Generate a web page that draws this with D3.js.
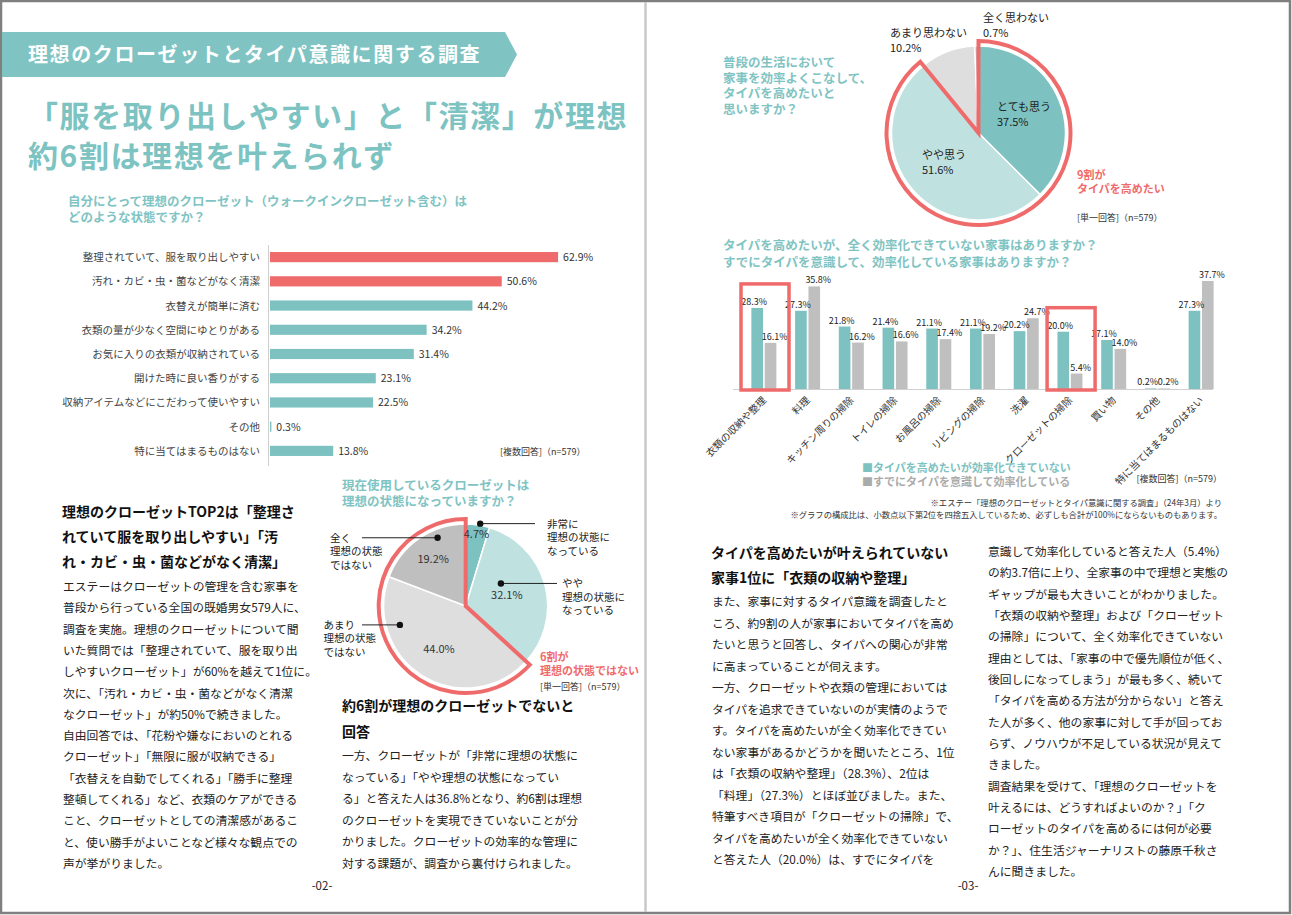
<!DOCTYPE html>
<html lang="ja">
<head>
<meta charset="utf-8">
<script src="https://cdn.jsdelivr.net/npm/d3@7"></script>
<style>
  html, body { margin: 0; padding: 0; background: #fff; }
  svg { display: block; font-family: "Noto Sans CJK JP", "Noto Sans", sans-serif; }
</style>
</head>
<body>
<svg id="chart" width="1292" height="915"></svg>
<script>
// ---------------- DATA ----------------
const bannerTitle = "理想のクローゼットとタイパ意識に関する調査";
const mainTitle = ["「服を取り出しやすい」と「清潔」が理想", "約6割は理想を叶えられず"];

const q1Question = ["自分にとって理想のクローゼット（ウォークインクローゼット含む）は", "どのような状態ですか？"];
const q1Categories = [
  "整理されていて、服を取り出しやすい",
  "汚れ・カビ・虫・菌などがなく清潔",
  "衣替えが簡単に済む",
  "衣類の量が少なく空間にゆとりがある",
  "お気に入りの衣類が収納されている",
  "開けた時に良い香りがする",
  "収納アイテムなどにこだわって使いやすい",
  "その他",
  "特に当てはまるものはない"
];
const q1Values = [62.9, 50.6, 44.2, 34.2, 31.4, 23.1, 22.5, 0.3, 13.8];
const q1Note = "[複数回答]（n=579）";

const q2Question = ["現在使用しているクローゼットは", "理想の状態になっていますか？"];
const q2Labels = [["非常に", "理想の状態に", "なっている"], ["やや", "理想の状態に", "なっている"], ["あまり", "理想の状態", "ではない"], ["全く", "理想の状態", "ではない"]];
const q2Values = [4.7, 32.1, 44.0, 19.2];
const q2Callout = ["6割が", "理想の状態ではない"];
const q2Note = "[単一回答]（n=579）";

const q3Question = ["普段の生活において", "家事を効率よくこなして、", "タイパを高めたいと", "思いますか？"];
const q3Labels = ["とても思う", "やや思う", "あまり思わない", "全く思わない"];
const q3Values = [37.5, 51.6, 10.2, 0.7];
const q3Callout = ["9割が", "タイパを高めたい"];
const q3Note = "[単一回答]（n=579）";

const q4Question = ["タイパを高めたいが、全く効率化できていない家事はありますか？", "すでにタイパを意識して、効率化している家事はありますか？"];
const q4Categories = ["衣類の収納や整理", "料理", "キッチン周りの掃除", "トイレの掃除", "お風呂の掃除", "リビングの掃除", "洗濯", "クローゼットの掃除", "買い物", "その他", "特に当てはまるものはない"];
const q4SeriesNames = ["タイパを高めたいが効率化できていない", "すでにタイパを意識して効率化している"];
const q4Want = [28.3, 27.3, 21.8, 21.4, 21.1, 21.1, 20.2, 20.0, 17.1, 0.2, 27.3];
const q4Done = [16.1, 35.8, 16.2, 16.6, 17.4, 19.2, 24.7, 5.4, 14.0, 0.2, 37.7];
const q4Highlight = ["衣類の収納や整理", "クローゼットの掃除"];
const q4Note = "[複数回答]（n=579）";
const footnotes = ["※エステー「理想のクローゼットとタイパ意識に関する調査」（24年3月）より", "※グラフの構成比は、小数点以下第2位を四捨五入しているため、必ずしも合計が100%にならないものもあります。"];

const text1Head = ["理想のクローゼットTOP2は「整理さ", "れていて服を取り出しやすい」「汚", "れ・カビ・虫・菌などがなく清潔」"];
const text1Body = [
  "エステーはクローゼットの管理を含む家事を",
  "普段から行っている全国の既婚男女579人に、",
  "調査を実施。理想のクローゼットについて聞",
  "いた質問では「整理されていて、服を取り出",
  "しやすいクローゼット」が60%を越えて1位に。",
  "次に、「汚れ・カビ・虫・菌などがなく清潔",
  "なクローゼット」が約50%で続きました。",
  "自由回答では、「花粉や嫌なにおいのとれる",
  "クローゼット」「無限に服が収納できる」",
  "「衣替えを自動でしてくれる」「勝手に整理",
  "整頓してくれる」など、衣類のケアができる",
  "こと、クローゼットとしての清潔感があるこ",
  "と、使い勝手がよいことなど様々な観点での",
  "声が挙がりました。"
];
const text2Head = ["約6割が理想のクローゼットでないと", "回答"];
const text2Body = [
  "一方、クローゼットが「非常に理想の状態に",
  "なっている」「やや理想の状態になってい",
  "る」と答えた人は36.8%となり、約6割は理想",
  "のクローゼットを実現できていないことが分",
  "かりました。クローゼットの効率的な管理に",
  "対する課題が、調査から裏付けられました。"
];
const text3Head = ["タイパを高めたいが叶えられていない", "家事1位に「衣類の収納や整理」"];
const text3Body = [
  "また、家事に対するタイパ意識を調査したと",
  "ころ、約9割の人が家事においてタイパを高め",
  "たいと思うと回答し、タイパへの関心が非常",
  "に高まっていることが伺えます。",
  "一方、クローゼットや衣類の管理においては",
  "タイパを追求できていないのが実情のようで",
  "す。タイパを高めたいが全く効率化できてい",
  "ない家事があるかどうかを聞いたところ、1位",
  "は「衣類の収納や整理」（28.3%）、2位は",
  "「料理」（27.3%）とほぼ並びました。また、",
  "特筆すべき項目が「クローゼットの掃除」で、",
  "タイパを高めたいが全く効率化できていない",
  "と答えた人（20.0%）は、すでにタイパを"
];
const text4Body = [
  "意識して効率化していると答えた人（5.4%）",
  "の約3.7倍に上り、全家事の中で理想と実態の",
  "ギャップが最も大きいことがわかりました。",
  "「衣類の収納や整理」および「クローゼット",
  "の掃除」について、全く効率化できていない",
  "理由としては、「家事の中で優先順位が低く、",
  "後回しになってしまう」が最も多く、続いて",
  "「タイパを高める方法が分からない」と答え",
  "た人が多く、他の家事に対して手が回ってお",
  "らず、ノウハウが不足している状況が見えて",
  "きました。",
  "調査結果を受けて、「理想のクローゼットを",
  "叶えるには、どうすればよいのか？」「ク",
  "ローゼットのタイパを高めるには何が必要",
  "か？」、住生活ジャーナリストの藤原千秋さ",
  "んに聞きました。"
];
const pageNumbers = ["-02-", "-03-"];

// ---------------- STYLE ----------------
const TEAL = "#7dc2c1", TEAL_L = "#bfe1e0", RED = "#ef6b6b", GRAY = "#bfbfbf", GRAY_L = "#dedede", INK = "#333";

const svg = d3.select("#chart");

// frame
svg.append("rect").attr("x", 1).attr("y", 1).attr("width", 1289).attr("height", 912)
  .attr("fill", "#fff").attr("stroke", "#7f7f7f").attr("stroke-width", 2.5);
svg.append("line").attr("x1", 645.5).attr("x2", 645.5).attr("y1", 2).attr("y2", 912)
  .attr("stroke", "#c8c8c8").attr("stroke-width", 2.5);

function lines(g, arr, x, y0, dy, size, opts = {}) {
  const t = g.append("text").attr("x", x).attr("y", y0)
    .attr("font-size", size).attr("fill", opts.fill || INK)
    .attr("font-weight", opts.weight || 400)
    .attr("text-anchor", opts.anchor || "start");
  if (opts.ls) t.attr("letter-spacing", opts.ls);
  arr.forEach((s, i) => t.append("tspan").attr("x", x).attr("y", y0 + i * dy).text(s));
  return t;
}

// ---------------- HEADER ----------------
svg.append("path").attr("d", "M2,32 L505,32 L517,54.5 L505,77 L2,77 Z").attr("fill", "#7fc4c3");
lines(svg, [bannerTitle], 28, 62, 0, 20, { fill: "#fff", weight: 700, ls: 1.6 });
lines(svg, mainTitle, 28, 127, 40, 30, { fill: "#7cc3c2", weight: 700, ls: 1.6 });

// ---------------- Q1 BAR CHART ----------------
lines(svg, q1Question, 68, 206, 16, 12.5, { fill: "#7fc4c3", weight: 700 });
const y1 = d3.scaleBand().domain(q1Categories).range([245, 463]).paddingInner(0.58).paddingOuter(0.29);
const x1 = d3.scaleLinear().domain([0, 100]).range([270, 728]);
const g1 = svg.append("g");
g1.append("line").attr("x1", 268.5).attr("x2", 268.5).attr("y1", 245).attr("y2", 466).attr("stroke", "#cfcfcf").attr("stroke-width", 1);
g1.selectAll("rect.b").data(q1Categories).join("rect")
  .attr("x", x1(0)).attr("y", d => y1(d)).attr("height", y1.bandwidth())
  .attr("width", (d, i) => x1(q1Values[i]) - x1(0))
  .attr("fill", (d, i) => i < 2 ? RED : TEAL);
g1.selectAll("text.c").data(q1Categories).join("text")
  .attr("x", 260).attr("y", d => y1(d) + y1.bandwidth() / 2 + 4)
  .attr("text-anchor", "end").attr("font-size", 10.5).attr("fill", "#444").text(d => d);
g1.selectAll("text.v").data(q1Categories).join("text")
  .attr("x", (d, i) => x1(q1Values[i]) + 5).attr("y", d => y1(d) + y1.bandwidth() / 2 + 4)
  .attr("font-size", 10.5).attr("fill", INK).text((d, i) => q1Values[i].toFixed(1) + "%");
lines(svg, [q1Note], 500, 455, 0, 9, { fill: INK });

// ---------------- LEFT TEXT ----------------
lines(svg, text1Head, 62, 517, 25, 14, { weight: 700, fill: "#111" });
lines(svg, text1Body, 63, 591, 21.3, 11.8, { fill: "#222" });

// ---------------- Q2 PIE ----------------
lines(svg, q2Question, 342, 490, 15.5, 12.5, { fill: "#7fc4c3", weight: 700 });
{
  const cx = 465.7, cy = 606, R = 82, Ro = 87;
  const g = svg.append("g").attr("transform", `translate(${cx},${cy})`);
  const pie = d3.pie().sort(null).value(d => d);
  const arcs = pie(q2Values);
  const colors = [TEAL, TEAL_L, GRAY_L, GRAY];
  const arc = d3.arc().innerRadius(0).outerRadius(R);
  g.selectAll("path.s").data(arcs).join("path").attr("d", arc)
    .attr("fill", (d, i) => colors[i]).attr("stroke", "#fff").attr("stroke-width", 1.5);
  const a0 = arcs[2].startAngle, a1 = arcs[3].endAngle;
  g.append("path").attr("d", d3.arc().innerRadius(0).outerRadius(Ro)({ startAngle: a0, endAngle: a1 }))
    .attr("fill", "none").attr("stroke", RED).attr("stroke-width", 4).attr("stroke-linejoin", "miter");
  const polar = (a, r) => [Math.sin(a) * r, -Math.cos(a) * r];
  const labelK = [0.89, 0.52, 0.62, 0.70];
  arcs.forEach((d, i) => {
    const m = (d.startAngle + d.endAngle) / 2;
    const [px, py] = polar(m, labelK[i] * R);
    g.append("text").attr("x", px).attr("y", py + 4).attr("text-anchor", "middle")
      .attr("font-size", 11).attr("fill", INK).text(q2Values[i].toFixed(1) + "%");
  });
  const callT = [0.59, 0.35, 0.767, 0.676], callK = [1.02, 0.51, 0.835, 0.9];
  const lineEnd = [535 - cx, 557 - cx, 362 - cx, 362 - cx];
  const textX = [547 - cx, 562 - cx, 323.5 - cx, 330 - cx];
  arcs.forEach((d, i) => {
    const a = d.startAngle + callT[i] * (d.endAngle - d.startAngle);
    const [px, py] = polar(a, callK[i] * R);
    g.append("line").attr("x1", px).attr("y1", py).attr("x2", lineEnd[i]).attr("y2", py).attr("stroke", "#222").attr("stroke-width", 1);
    g.append("circle").attr("cx", px).attr("cy", py).attr("r", 3.2).attr("fill", "#111");
    lines(g, q2Labels[i], textX[i], py + 4, 13.5, 10.5, { fill: "#222" });
  });
  lines(svg, q2Callout, 540, 661, 13.5, 11, { fill: RED, weight: 700 });
  lines(svg, [q2Note], 540, 690, 0, 9, { fill: INK });
}

// ---------------- MIDDLE TEXT ----------------
lines(svg, text2Head, 342, 711, 25.5, 14, { weight: 700, fill: "#111" });
lines(svg, text2Body, 342, 760, 21.5, 11.8, { fill: "#222" });

// ---------------- Q3 PIE ----------------
lines(svg, q3Question, 723, 67, 15.5, 12.5, { fill: "#7fc4c3", weight: 700 });
{
  const cx = 978.5, cy = 133, R = 87, Ro = 92;
  const g = svg.append("g").attr("transform", `translate(${cx},${cy})`);
  const pie = d3.pie().sort(null).value(d => d);
  const arcs = pie(q3Values);
  const colors = [TEAL, TEAL_L, GRAY_L, GRAY];
  const arc = d3.arc().innerRadius(0).outerRadius(R);
  g.selectAll("path.s").data(arcs).join("path").attr("d", arc)
    .attr("fill", (d, i) => colors[i]).attr("stroke", "#fff").attr("stroke-width", 1.5);
  const a0 = arcs[0].startAngle, a1 = arcs[1].endAngle;
  g.append("path").attr("d", d3.arc().innerRadius(0).outerRadius(Ro)({ startAngle: a0, endAngle: a1 }))
    .attr("fill", "none").attr("stroke", RED).attr("stroke-width", 4).attr("stroke-linejoin", "miter");
  const labelPos = [[997, 111], [922, 159], [890, 37], [983, 22]];
  q3Labels.forEach((s, i) => {
    lines(svg, [s, q3Values[i].toFixed(1) + "%"], labelPos[i][0], labelPos[i][1], 14.5, 11, { fill: "#222" });
  });
  lines(svg, q3Callout, 1077, 179, 14, 11, { fill: RED, weight: 700 });
  lines(svg, [q3Note], 1077, 221, 0, 9, { fill: INK });
}

// ---------------- Q4 GROUPED BARS ----------------
lines(svg, q4Question, 723, 250, 16.5, 12.5, { fill: "#7fc4c3", weight: 700 });
{
  const x0 = d3.scaleBand().domain(q4Categories).range([742, 1223]).paddingInner(0);
  const bw = x0.bandwidth();
  const xs = d3.scaleBand().domain([0, 1]).range([bw / 2 - 12.5, bw / 2 + 12.5]).paddingInner(0.13);
  const y = d3.scaleLinear().domain([0, 40]).range([389, 389 - 114.6]);
  const g = svg.append("g");
  const series = [q4Want, q4Done];
  const colors = [TEAL, GRAY];
  series.forEach((vals, s) => {
    g.selectAll("rect.s" + s).data(q4Categories).join("rect")
      .attr("x", d => x0(d) + xs(s)).attr("width", xs.bandwidth())
      .attr("y", (d, i) => y(vals[i])).attr("height", (d, i) => y(0) - y(vals[i]))
      .attr("fill", colors[s]);
  });
  series.forEach((vals, s) => {
    g.selectAll("text.v" + s).data(q4Categories).join("text")
      .attr("x", d => x0(d) + xs(s) + xs.bandwidth() / 2 + (s === 0 ? -3 : 4))
      .attr("y", (d, i) => y(vals[i]) - 3)
      .attr("text-anchor", "middle").attr("font-size", 9).attr("fill", "#222")
      .text((d, i) => vals[i].toFixed(1) + "%");
  });
  g.append("line").attr("x1", 733).attr("x2", 1213).attr("y1", 389.5).attr("y2", 389.5).attr("stroke", "#d0d0d0").attr("stroke-width", 1);
  q4Highlight.forEach(c => {
    const i = q4Categories.indexOf(c);
    const top = y(Math.max(q4Want[i], q4Done[i])) - 24;
    g.append("rect").attr("x", x0(c) - 1).attr("y", top).attr("width", 48).attr("height", y(0) + 1 - top)
      .attr("fill", "none").attr("stroke", RED).attr("stroke-width", 3.5);
  });
  g.selectAll("text.c").data(q4Categories).join("text")
    .attr("transform", d => `translate(${x0(d) + bw / 2 + 3},${401}) rotate(-45)`)
    .attr("text-anchor", "end").attr("font-size", 10).attr("fill", "#333").text(d => d);
  q4SeriesNames.forEach((n, s) => {
    g.append("text").attr("x", 862).attr("y", 472 + s * 13.5).attr("font-size", 11).attr("font-weight", 700)
      .attr("fill", s === 0 ? TEAL : "#aaa").text("■" + n);
  });
  lines(svg, [q4Note], 1222, 482, 0, 9, { fill: INK, anchor: "end" });
  lines(svg, footnotes, 1222, 506, 11.5, 8.3, { fill: INK, anchor: "end" });
}

// ---------------- RIGHT TEXT ----------------
lines(svg, text3Head, 711, 558, 25, 14, { weight: 700, fill: "#111" });
lines(svg, text3Body, 712, 606, 21.5, 11.8, { fill: "#222" });
lines(svg, text4Body, 988, 556, 21.33, 11.8, { fill: "#222" });

lines(svg, [pageNumbers[0]], 322, 890, 0, 11.5, { fill: "#222", anchor: "middle" });
lines(svg, [pageNumbers[1]], 968, 890, 0, 11.5, { fill: "#222", anchor: "middle" });
</script>
</body>
</html>
